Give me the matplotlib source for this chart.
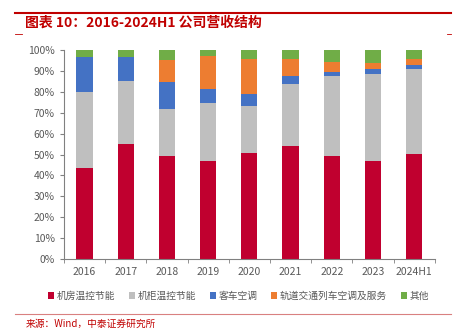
import matplotlib
matplotlib.use("Agg")
import matplotlib.pyplot as plt
import numpy as np

plt.rcParams['font.family'] = ['Noto Sans CJK SC', 'DejaVu Sans']

# data (share of revenue, %)
years = ["2016", "2017", "2018", "2019", "2020", "2021", "2022", "2023", "2024H1"]
room = [43.8, 55.1, 49.5, 47.1, 51.0, 54.1, 49.5, 46.8, 50.3]
cabinet = [36.0, 30.1, 22.3, 27.7, 22.4, 29.7, 37.9, 41.6, 40.9]
bus = [17.0, 11.3, 12.9, 6.7, 5.6, 3.9, 2.2, 2.7, 1.6]
rail = [0.0, 0.0, 10.8, 15.8, 16.7, 8.3, 4.8, 2.8, 2.9]
other = [3.2, 3.5, 4.5, 2.7, 4.3, 4.0, 5.6, 6.1, 4.3]

series = [
    ("机房温控节能", room, "#C0002F"),
    ("机柜温控节能", cabinet, "#BFBFBF"),
    ("客车空调", bus, "#4472C4"),
    ("轨道交通列车空调及服务", rail, "#ED7D31"),
    ("其他", other, "#70AD47"),
]

fig = plt.figure(figsize=(4.63, 3.30), dpi=100)
ax = fig.add_axes([0.138, 0.215, 0.801, 0.633])

x = np.arange(len(years))
bottom = np.zeros(len(years))
for name, vals, color in series:
    ax.bar(x, vals, width=0.39, bottom=bottom, color=color, label=name)
    bottom += np.array(vals)

ax.set_xlim(-0.5, len(years) - 0.5)
ax.set_ylim(0, 100)
ax.set_yticks(np.arange(0, 101, 10))
ax.set_yticklabels([f"{v}%" for v in range(0, 101, 10)])
ax.set_xticks(x)
ax.set_xticklabels(years)
ax.set_xticks(np.arange(-0.5, len(years), 1), minor=True)
ax.tick_params(axis='x', which='major', length=0, pad=6, labelsize=7.5, labelcolor="#595959")
ax.tick_params(axis='x', which='minor', length=3, color="#808080")
ax.tick_params(axis='y', length=3, color="#808080", labelsize=7.5, labelcolor="#595959")
for side in ["top", "right"]:
    ax.spines[side].set_visible(False)
for side in ["left", "bottom"]:
    ax.spines[side].set_color("#808080")
    ax.spines[side].set_linewidth(0.8)

leg = fig.legend(loc="center", bbox_to_anchor=(0.515, 0.103), ncol=5, frameon=False,
                 fontsize=7, handlelength=0.6, handleheight=0.6, handletextpad=0.3,
                 columnspacing=1.4)
for t in leg.get_texts():
    t.set_color("#595959")

# header and footer decorations
fig.add_artist(plt.Line2D([0.033, 0.975], [0.962, 0.962], color="#C00000", lw=1.5))
fig.add_artist(plt.Line2D([0.033, 0.048], [0.897, 0.897], color="#C00000", lw=0.6))
fig.add_artist(plt.Line2D([0.965, 0.975], [0.897, 0.897], color="#C00000", lw=0.6))
fig.text(0.055, 0.932, "图表 10：2016-2024H1 公司营收结构", color="#C00000",
         fontsize=10, fontweight="bold", va="center", ha="left")
fig.add_artist(plt.Line2D([0.033, 0.975], [0.047, 0.047], color="#D98080", lw=0.8))
fig.text(0.055, 0.018, "来源：Wind，中泰证券研究所", color="#C00000", fontsize=7,
         va="center", ha="left")

fig.savefig("out.png", dpi=100)
